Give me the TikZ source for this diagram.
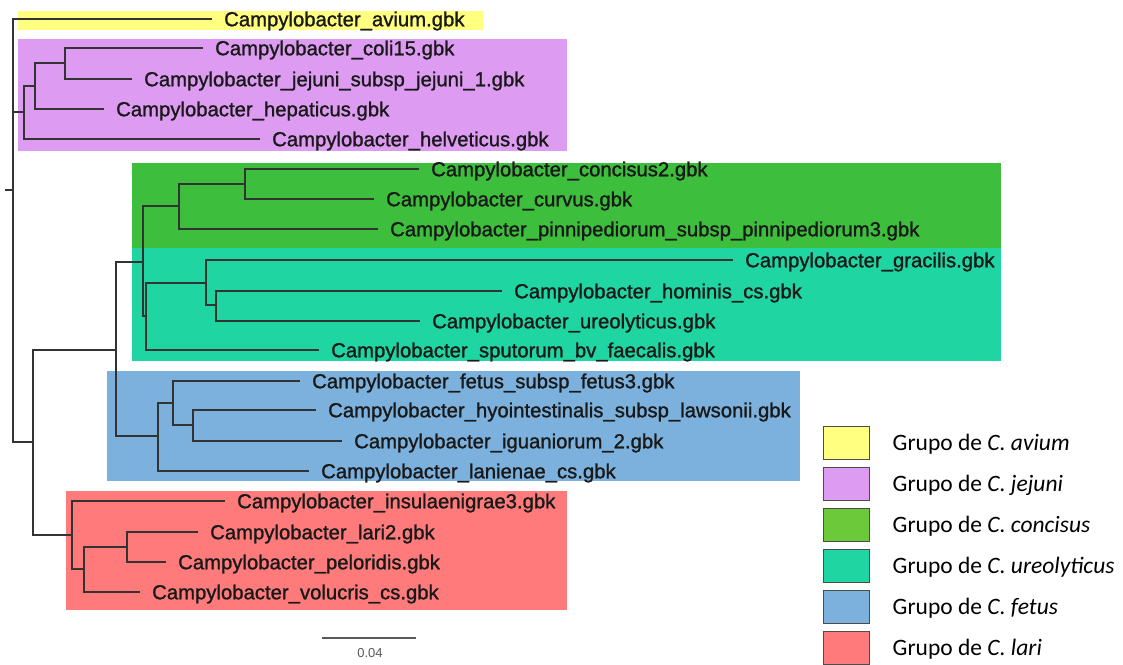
\documentclass[tikz,border=0pt]{standalone}
\usepackage{fontspec}
\setmainfont{Liberation Sans}
\newfontfamily\leaffamily[FakeBold=1.2]{Liberation Sans}
\newfontfamily\keyfamily{Carlito}
\usetikzlibrary{positioning}
\newcommand\leaffont{\leaffamily\fontsize{20.3}{22}\selectfont}
\newcommand\keyfont{\keyfamily\fontsize{23.5}{26}\selectfont}
\definecolor{avcol}{HTML}{FFFF80}
\definecolor{jecol}{HTML}{DD9CF2}
\definecolor{cocol}{HTML}{3DBE3D}
\definecolor{cokey}{HTML}{6CC93A}
\definecolor{urcol}{HTML}{1FD6A3}
\definecolor{fecol}{HTML}{7BB1DC}
\definecolor{lacol}{HTML}{FF7B7B}
\tikzset{
  leafname/.style={anchor=west, inner xsep=12pt, inner ysep=0pt, text height=14.5pt,
    text depth=0pt, font=\leaffont, text=black!90},
  branch/.style={line width=1.3pt, draw=black!80},
  groupkey/.style={draw=black!70, line width=1pt, minimum width=46pt, minimum height=33pt,
    inner sep=0pt},
  groupname/.style={anchor=west, inner xsep=3pt, text height=15pt, text depth=0pt, font=\keyfont}
}

\begin{document}
\begin{tikzpicture}[x=1pt, y=-1pt]
    \useasboundingbox (0,0) rectangle (1123,664);
    % group shading
    \fill[avcol] (18,11) rectangle (483,30);
    \fill[jecol] (18,39) rectangle (567,151);
    \fill[cocol] (132,163) rectangle (1001,248);
    \fill[urcol] (132,248) rectangle (1001,361);
    \fill[fecol] (107,371) rectangle (800,481);
    \fill[lacol] (66,491) rectangle (567,610);

    % internal nodes
    \coordinate (rtick) at (5,190);
    \coordinate (r) at (13,190);
    \coordinate (jej) at (24,112);
    \coordinate (jej2) at (35,86);
    \coordinate (jej3) at (65,63);
    \coordinate (rest) at (33,442);
    \coordinate (core) at (116,350);
    \coordinate (coure) at (143,262);
    \coordinate (con) at (179,206);
    \coordinate (con2) at (245,184);
    \coordinate (ure) at (146,316);
    \coordinate (ure2) at (206,283);
    \coordinate (ure3) at (216,305);
    \coordinate (fet) at (158,436);
    \coordinate (fet2) at (173,403);
    \coordinate (fet3) at (193,425);
    \coordinate (lar) at (72,535);
    \coordinate (lar2) at (84,569);
    \coordinate (lar3) at (127,547);

    % leaves
    \node[leafname] (avium) at (212,19) {Campylobacter\_avium.gbk};
    \node[leafname] (coli) at (203,48) {Campylobacter\_coli15.gbk};
    \node[leafname] (jejuni) at (132,79) {Campylobacter\_jejuni\_subsp\_jejuni\_1.gbk};
    \node[leafname] (hepat) at (104,109) {Campylobacter\_hepaticus.gbk};
    \node[leafname] (helvet) at (260,139) {Campylobacter\_helveticus.gbk};
    \node[leafname] (concis) at (419,169) {Campylobacter\_concisus2.gbk};
    \node[leafname] (curvus) at (374,199) {Campylobacter\_curvus.gbk};
    \node[leafname] (pinni) at (378,229) {Campylobacter\_pinnipediorum\_subsp\_pinnipediorum3.gbk};
    \node[leafname] (gracil) at (733,260) {Campylobacter\_gracilis.gbk};
    \node[leafname] (homin) at (502,291) {Campylobacter\_hominis\_cs.gbk};
    \node[leafname] (ureoly) at (420,321) {Campylobacter\_ureolyticus.gbk};
    \node[leafname] (sputor) at (319,350) {Campylobacter\_sputorum\_bv\_faecalis.gbk};
    \node[leafname] (fetus) at (300,381) {Campylobacter\_fetus\_subsp\_fetus3.gbk};
    \node[leafname] (hyoint) at (316,410) {Campylobacter\_hyointestinalis\_subsp\_lawsonii.gbk};
    \node[leafname] (iguan) at (342,441) {Campylobacter\_iguaniorum\_2.gbk};
    \node[leafname] (lanien) at (309,471) {Campylobacter\_lanienae\_cs.gbk};
    \node[leafname] (insul) at (225,501) {Campylobacter\_insulaenigrae3.gbk};
    \node[leafname] (lari) at (198,532) {Campylobacter\_lari2.gbk};
    \node[leafname] (pelor) at (166,562) {Campylobacter\_peloridis.gbk};
    \node[leafname] (volucr) at (140,592) {Campylobacter\_volucris\_cs.gbk};

    % branches
    \draw[branch] (rtick) -- (r);
    \draw[branch] (r) |- (avium.west) (r) |- (jej) (r) |- (rest);
    \draw[branch] (jej) |- (jej2) (jej) |- (helvet.west);
    \draw[branch] (jej2) |- (jej3) (jej2) |- (hepat.west);
    \draw[branch] (jej3) |- (coli.west) (jej3) |- (jejuni.west);
    \draw[branch] (rest) |- (core) (rest) |- (lar);
    \draw[branch] (core) |- (coure) (core) |- (fet);
    \draw[branch] (coure) |- (con) (coure) |- (ure);
    \draw[branch] (con) |- (con2) (con) |- (pinni.west);
    \draw[branch] (con2) |- (concis.west) (con2) |- (curvus.west);
    \draw[branch] (ure) |- (ure2) (ure) |- (sputor.west);
    \draw[branch] (ure2) |- (gracil.west) (ure2) |- (ure3);
    \draw[branch] (ure3) |- (homin.west) (ure3) |- (ureoly.west);
    \draw[branch] (fet) |- (fet2) (fet) |- (lanien.west);
    \draw[branch] (fet2) |- (fetus.west) (fet2) |- (fet3);
    \draw[branch] (fet3) |- (hyoint.west) (fet3) |- (iguan.west);
    \draw[branch] (lar) |- (insul.west) (lar) |- (lar2);
    \draw[branch] (lar2) |- (lar3) (lar2) |- (volucr.west);
    \draw[branch] (lar3) |- (lari.west) (lar3) |- (pelor.west);

    % scale bar
    \coordinate (sbl) at (322,638);
    \coordinate (sbr) at (416,638);
    \draw[line width=1.5pt, black!65] (sbl) -- (sbr);
    \node[font=\fontsize{13}{14}\selectfont, text=black!65] (sbtext) at (370,653) {0.04};

    % key
    \node[groupkey, fill=avcol] (kav) at (846,443) {};
    \node[groupkey, fill=jecol] (kje) at (846,484) {};
    \node[groupkey, fill=cokey] (kco) at (846,525) {};
    \node[groupkey, fill=urcol] (kur) at (846,566) {};
    \node[groupkey, fill=fecol] (kfe) at (846,607) {};
    \node[groupkey, fill=lacol] (kla) at (846,648) {};
    \node[groupname, right=20pt of kav] (tav) {Grupo de \textit{C. avium}};
    \node[groupname, right=20pt of kje] (tje) {Grupo de \textit{C. jejuni}};
    \node[groupname, right=20pt of kco] (tco) {Grupo de \textit{C. concisus}};
    \node[groupname, right=20pt of kur] (tur) {Grupo de \textit{C. ureolyticus}};
    \node[groupname, right=20pt of kfe] (tfe) {Grupo de \textit{C. fetus}};
    \node[groupname, right=20pt of kla] (tla) {Grupo de \textit{C. lari}};
  \end{tikzpicture}
\end{document}
